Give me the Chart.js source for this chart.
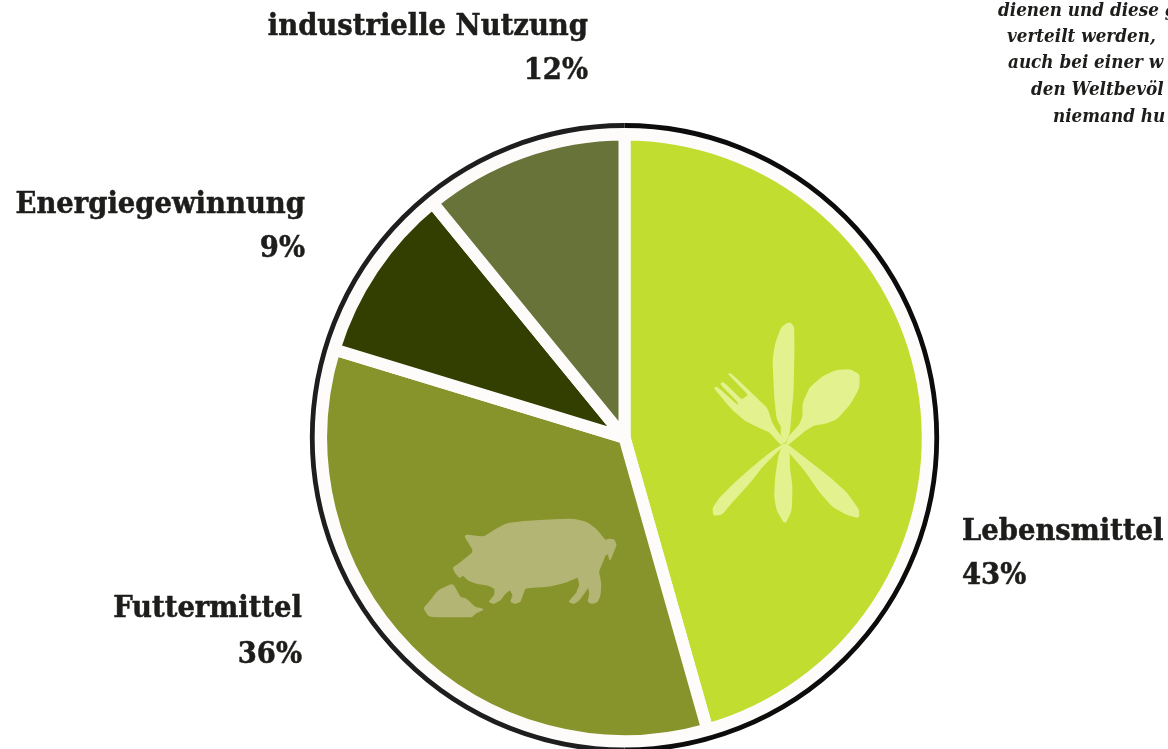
<!DOCTYPE html>
<html lang="de">
<head>
<meta charset="utf-8">
<title>Nutzung der Ernte</title>
<script src="https://cdn.jsdelivr.net/npm/chart.js@4"></script>
<style>
html,body{margin:0;padding:0;background:#fff;overflow:hidden}
#wrap{position:relative;width:1168px;height:749px;overflow:hidden}
canvas{position:absolute;left:0;top:0}
svg{position:absolute;left:0;top:0;pointer-events:none}
</style>
</head>
<body>
<div id="wrap">
<canvas id="c" width="1168" height="749"></canvas>
<svg width="1168" height="749" viewBox="0 0 1168 749">
  <g transform="translate(690 310) scale(.3333)" fill="#E3F18F" stroke="#E3F18F" stroke-width="5" stroke-linejoin="round">
    <path d="M300 40L310 50 311 120 308 250 303 300 297 370 285 397 275 375 275 350 262 325 255 260 250 150 258 100 275 55 290 42Z"/>
    <path d="M507 195L505 235 480 280 440 325 410 338 370 345 345 360 290 405 298 380 330 345 340 320 340 280 360 235 400 200 440 182 480 180Z"/>
    <path d="M117 192L122 192 195 262 230 295 245 340 258 362 285 395 272 402 240 365 205 350 165 330 130 300 75 235 80 232 145 290 147 277 93 222 100 218 155 272 178 255Z"/>
    <path d="M285 400L215 470 180 515 130 570 95 612 72 615 70 595 90 565 130 525 180 480 240 430Z"/>
    <path d="M268 435L258 500 255 560 262 600 285 640 303 600 305 530 297 470 297 430 283 400Z"/>
    <path d="M285 400L350 450 420 505 470 550 505 600 505 622 470 612 430 590 390 545 345 480 297 425Z"/>
  </g>
  <g transform="translate(410 500) scale(.3333)" fill="#B3B574" stroke="#B3B574" stroke-width="4" stroke-linejoin="round">
    <path d="M130 203L150 190 187 160 190 150 163 105 222 112 255 90 290 72 340 65 420 60 490 58 530 68 560 90 585 122 598 118 612 120 618 135 610 155 600 180 595 160 585 165 575 190 565 215 572 250 570 285 562 305 545 310 535 305 540 280 535 258 525 275 505 302 490 310 478 305 500 280 510 255 505 230 470 245 420 258 345 263 335 290 330 305 315 310 303 305 310 285 300 268 285 280 270 300 250 310 238 305 255 285 255 265 235 255 200 250 175 240 160 225 148 232 135 215Z"/>
    <path d="M42 325L60 305 85 272 128 252 150 293 168 297 195 323 220 328 195 340 185 350 58 350Z"/>
  </g>
</svg>
</div>
<script>
// Percentages as printed next to the pie
const categories = ["Lebensmittel", "Futtermittel", "Energiegewinnung", "industrielle Nutzung"];
const printedShares = [43, 36, 9, 12];
// Slice sizes (the drawn angles differ from the printed numbers)
const sliceValues = [45.6, 34.1, 9.4, 10.9];
const sliceColors = ["#C1DD30", "#87942C", "#323F00", "#68733A"];
const noteLines = ["dienen und diese g", "verteilt werden,", "auch bei einer w", "den Weltbevöl", "niemand hu"];

const labelFont = 'bold 30.5px "DejaVu Serif Condensed","DejaVu Serif",serif';
const labelSpots = [
  {x: 962, y1: 540, y2: 584, align: "left"},
  {x: 302, y1: 617, y2: 663, align: "right"},
  {x: 305, y1: 213, y2: 257, align: "right"},
  {x: 588, y1: 35, y2: 79, align: "right"}
];
const noteSpots = [[998,16],[1007,42],[1008,68],[1031,95],[1053,122]];

// Round the corners of the icon outlines
document.querySelectorAll("svg path").forEach(p => {
  const n = p.getAttribute("d").match(/[\d.]+/g).map(Number);
  const pts = [];
  for (let i = 0; i < n.length; i += 2) pts.push([n[i], n[i + 1]]);
  const t = 0.2, L = pts.length;
  let d = "";
  pts.forEach((P, i) => {
    const A = pts[(i + L - 1) % L], B = pts[(i + 1) % L];
    const s = [P[0] + (A[0] - P[0]) * t, P[1] + (A[1] - P[1]) * t];
    const e = [P[0] + (B[0] - P[0]) * t, P[1] + (B[1] - P[1]) * t];
    d += (i ? "L" : "M") + s[0] + " " + s[1] + "Q" + P[0] + " " + P[1] + " " + e[0] + " " + e[1];
  });
  p.setAttribute("d", d + "Z");
});

const ringPlugin = {
  id: "ring",
  afterDatasetsDraw(chart) {
    const arc = chart.getDatasetMeta(0).data[0];
    const {ctx} = chart;
    const r = arc.outerRadius + 9;
    ctx.save();
    ctx.lineWidth = 4.8;
    ctx.strokeStyle = "#0C0C0C";
    ctx.beginPath(); ctx.arc(arc.x, arc.y, r, -Math.PI / 2, Math.PI / 2); ctx.stroke();
    ctx.strokeStyle = "#1E1E1E";
    ctx.beginPath(); ctx.arc(arc.x, arc.y, r, Math.PI / 2, Math.PI * 1.5); ctx.stroke();
    ctx.restore();
  }
};

const textPlugin = {
  id: "texts",
  afterDatasetsDraw(chart) {
    const {ctx} = chart;
    ctx.save();
    ctx.fillStyle = "#1D1D1B";
    ctx.strokeStyle = "#1D1D1B";
    ctx.lineWidth = 0.5;
    ctx.textBaseline = "alphabetic";
    ctx.font = labelFont;
    categories.forEach((name, i) => {
      const s = labelSpots[i];
      ctx.textAlign = s.align;
      ctx.fillText(name, s.x, s.y1);
      ctx.strokeText(name, s.x, s.y1);
      const pct = printedShares[i] + "%";
      ctx.fillText(pct, s.x, s.y2);
      ctx.strokeText(pct, s.x, s.y2);
    });
    ctx.textAlign = "left";
    ctx.font = 'italic bold 18.7px "DejaVu Serif Condensed","Liberation Serif",serif';
    noteLines.forEach((t, i) => ctx.fillText(t, noteSpots[i][0], noteSpots[i][1]));
    ctx.restore();
  }
};

new Chart(document.getElementById("c"), {
  type: "pie",
  data: {
    labels: categories,
    datasets: [{
      data: sliceValues,
      backgroundColor: sliceColors,
      borderColor: "#FEFCFB",
      borderWidth: 12,
      borderJoinStyle: "round"
    }]
  },
  options: {
    responsive: false,
    animation: false,
    layout: {padding: {left: 315.25, right: 234.25, top: 128.5, bottom: 2}},
    plugins: {legend: {display: false}, tooltip: {enabled: false}, title: {display: false}}
  },
  plugins: [ringPlugin, textPlugin]
});
</script>
</body>
</html>
